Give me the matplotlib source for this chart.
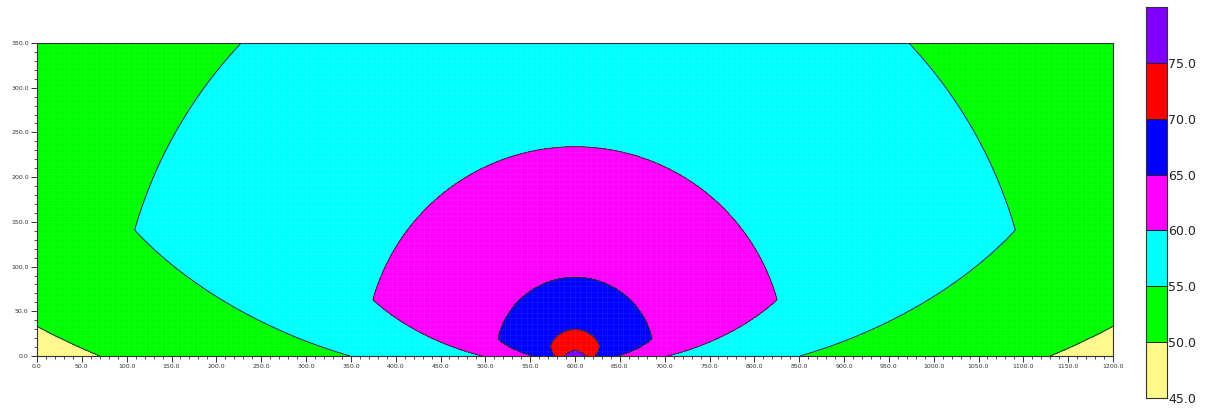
import numpy as np
import matplotlib
matplotlib.use("Agg")
import matplotlib.pyplot as plt
from matplotlib.colors import ListedColormap, BoundaryNorm
from matplotlib.ticker import MultipleLocator, FormatStrFormatter

# ---- data ----
source_x = 600.0
source_y = 0.0
# contour levels (descending) and the radius of each level
levels_desc = [80.0, 75.0, 70.0, 65.0, 60.0, 55.0, 50.0, 45.0]
radius_lobe = [1.0, 6.5, 29.5, 88.0, 234.0, 511.0, 870.0, 2000.0]     # inside main lobe
radius_ground = [2.0, 12.0, 22.0, 47.0, 103.0, 251.0, 530.0, 1100.0]  # along the ground
corner_angle = [50.0, 50.0, 24.0, 12.5, 15.6, 16.0, 16.0, 16.0]        # deg above horizontal
side_bulge = 0.35                                                     # curvature of side flanks

band_levels = [45, 50, 55, 60, 65, 70, 75, 80]
band_colors = ["#FFF88A", "#00FF00", "#00FFFF", "#FF00FF", "#0000FF", "#FF0000", "#8000FF"]
cbar_labels = ["45.0", "50.0", "55.0", "60.0", "65.0", "70.0", "75.0"]

x_range = (0.0, 1200.0)
y_range = (0.0, 350.0)

# ---- field ----
xs = np.linspace(*x_range, 1201)
ys = np.linspace(*y_range, 351)
X, Y = np.meshgrid(xs, ys)
dx = np.abs(X - source_x)
dy = Y - source_y
r = np.maximum(np.hypot(dx, dy), 1e-3)
alpha = np.degrees(np.arctan2(dy, dx))
logr = np.log(r)

Rstack = []
for Rl, Rg, a0 in zip(radius_lobe, radius_ground, corner_angle):
    t = np.clip(alpha / a0, 0, 1)
    t = t + side_bulge * t * (1 - t)
    Rstack.append(Rg * (Rl / Rg) ** t)
logR = np.log(np.array(Rstack))
lev = np.array(levels_desc)
K = len(lev)
cnt = (logr[None] > logR).sum(0)
i = np.clip(cnt, 1, K - 1)
lo = np.take_along_axis(logR, (i - 1)[None], 0)[0]
hi = np.take_along_axis(logR, i[None], 0)[0]
t = (logr - lo) / (hi - lo)
t = np.clip(t, -0.5, 1.5)
L = lev[i - 1] + t * (lev[i] - lev[i - 1])
L = np.clip(L, 45.01, 79.99)

# ---- plot ----
fig = plt.figure(figsize=(12.06, 4.08), dpi=100)
ax = fig.add_axes([37 / 1206, 52 / 408, 1076 / 1206, 313 / 408])
cmap = ListedColormap(band_colors)
norm = BoundaryNorm(band_levels, cmap.N)
ax.contourf(X, Y, L, levels=band_levels, cmap=cmap, norm=norm)
ax.contour(X, Y, L, levels=band_levels[1:-1], colors="#2a2a2a", linewidths=0.7)

# faint calculation grid
ax.vlines(np.arange(0, 1201, 6), 0, 350, colors="white", alpha=0.1, lw=0.4)
ax.hlines(np.arange(0, 351, 6), 0, 1200, colors="white", alpha=0.1, lw=0.4)

ax.set_xlim(*x_range)
ax.set_ylim(*y_range)
ax.xaxis.set_major_locator(MultipleLocator(50))
ax.xaxis.set_minor_locator(MultipleLocator(10))
ax.yaxis.set_major_locator(MultipleLocator(50))
ax.yaxis.set_minor_locator(MultipleLocator(10))
ax.xaxis.set_major_formatter(FormatStrFormatter("%.1f"))
ax.yaxis.set_major_formatter(FormatStrFormatter("%.1f"))
ax.tick_params(which="major", length=4, width=0.7, labelsize=4.5, colors="#333333", pad=2)
ax.tick_params(which="minor", length=2.5, width=0.6, colors="#333333")
for s in ax.spines.values():
    s.set_linewidth(0.8)
    s.set_color("#333333")

# colour bar
cax = fig.add_axes([1146 / 1206, 10 / 408, 21 / 1206, 391 / 408])
for k in range(len(band_colors)):
    cax.fill_between([0, 1], band_levels[k], band_levels[k + 1], color=band_colors[k], lw=0)
    cax.axhline(band_levels[k], color="#222222", lw=0.7)
cax.set_xlim(0, 1)
cax.set_ylim(band_levels[0], band_levels[-1])
cax.set_xticks([])
cax.yaxis.tick_right()
cax.set_yticks(band_levels[:-1])
cax.set_yticklabels(cbar_labels)
cax.tick_params(axis="y", length=0, labelsize=9, pad=1, colors="#222222")
for s in cax.spines.values():
    s.set_linewidth(0.8)
    s.set_color("#333333")

fig.savefig("out.png", dpi=100)
